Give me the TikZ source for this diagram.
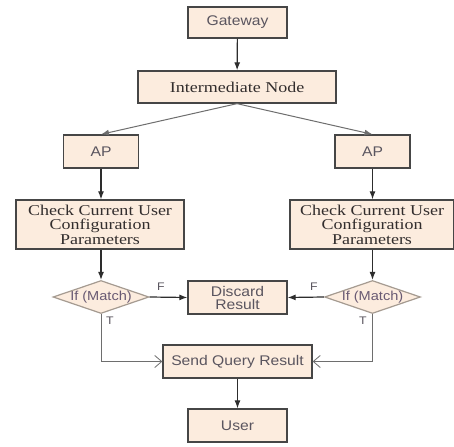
\documentclass[tikz,border=0pt]{standalone}
\usepackage{fontspec}
\setmainfont{Liberation Serif}[FakeStretch=1.2]
\newfontfamily\boxsans{Liberation Sans}[FakeStretch=1.12]
\usetikzlibrary{shapes.geometric,arrows.meta}

\definecolor{boxfill}{RGB}{252,236,222}
\definecolor{boxline}{RGB}{70,70,70}
\definecolor{serifink}{RGB}{50,45,45}
\definecolor{sansink}{RGB}{90,85,95}
\definecolor{decink}{RGB}{105,90,115}
\definecolor{decline}{RGB}{165,155,145}
\definecolor{wire}{RGB}{45,45,45}
\definecolor{softwire}{RGB}{110,110,110}

\tikzset{
  box/.style={draw=boxline, line width=1.3pt, fill=boxfill, inner sep=0pt,
              align=center},
  sansbox/.style={box, font=\boxsans\fontsize{14}{13}\selectfont, text=sansink},
  serifbox/.style={box, font=\fontsize{15}{14.5}\selectfont, text=serifink},
  decision/.style={diamond, draw=decline, line width=1.2pt, fill=boxfill,
                   inner sep=0pt, minimum width=96pt, minimum height=33pt},
  dtext/.style={font=\boxsans\fontsize{13}{13}\selectfont, text=decink},
  flow/.style={draw=wire, line width=1.2pt, -{Latex[length=8pt,width=6pt]}},
  softflow/.style={draw=softwire, line width=1pt, -{Latex[length=8pt,width=6pt]}},
  openflow/.style={draw=softwire, line width=1pt,
                   -{Straight Barb[length=7pt,width=12pt,line width=0.8pt]}},
  tag/.style={font=\boxsans\fontsize{11}{11}\selectfont, text=sansink, inner sep=0pt}
}

\begin{document}
\begin{tikzpicture}[x=1pt,y=-1pt]
  \useasboundingbox (0,0) rectangle (454,446);
  \fill[white] (0,0) rectangle (454,446);

  % main column
  \node[sansbox, minimum width=99pt, minimum height=31pt] (gw) at (237.5,22.5) {Gateway};
  \node[serifbox, minimum width=198pt, minimum height=32pt] (mid) at (237,87) {Intermediate Node};

  % access points
  \node[sansbox, minimum width=75pt, minimum height=33pt] (apL) at (101,151.5) {AP};
  \node[sansbox, minimum width=75pt, minimum height=33pt] (apR) at (372.5,151.5) {AP};

  % parameter checks
  \node[serifbox, minimum width=168pt, minimum height=49pt] (chkL) at (100,224.5)
    {Check Current User\\Configuration\\Parameters};
  \node[serifbox, minimum width=164pt, minimum height=49pt] (chkR) at (372,224.5)
    {Check Current User\\Configuration\\Parameters};

  % decisions
  \node[decision, label={[dtext]center:If (Match)}] (decL) at (101,297) {};
  \node[decision, label={[dtext]center:If (Match)}] (decR) at (372.5,297) {};

  % outcomes
  \node[sansbox, minimum width=99pt, minimum height=33pt] (drop) at (237.5,297.5) {Discard\\Result};
  \node[sansbox, minimum width=149pt, minimum height=33pt] (send) at (237.5,361.5) {Send Query Result};
  \node[sansbox, minimum width=99pt, minimum height=33pt] (user) at (237.5,425.5) {User};

  % connectors
  \draw[flow] (gw) -- (mid);
  \draw[softflow] (mid.south) -- (apL.north);
  \draw[softflow] (mid.south) -- (apR.north);
  \draw[flow] (apL) -- (apL |- chkL.north);
  \draw[flow] (apR) -- (apR |- chkR.north);
  \draw[flow] (decL |- chkL.south) -- (decL.north);
  \draw[flow] (decR |- chkR.south) -- (decR.north);
  \draw[flow] (decL.east) -- (drop.west);
  \draw[flow] (decR.west) -- (drop.east);
  \draw[openflow] (decL.south) |- (send.west);
  \draw[openflow] (decR.south) |- (send.east);
  \draw[flow] (send) -- (user);

  % branch labels
  \node[tag] (fL) at (161,287) {F};
  \node[tag] (tL) at (110,321) {T};
  \node[tag] (fR) at (314,287) {F};
  \node[tag] (tR) at (363,321) {T};
\end{tikzpicture}
\end{document}
